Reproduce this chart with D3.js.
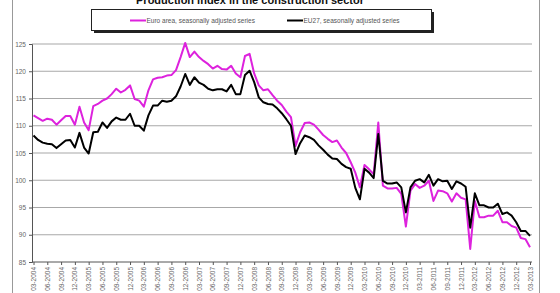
<!DOCTYPE html>
<meta charset="utf-8">
<script src="https://d3js.org/d3.v7.min.js"></script>
<style>
  body { margin: 0; background: #fff; }
  text { font-family: "Liberation Sans", Arial, sans-serif; }
</style>
<svg id="chart" width="560" height="293"></svg>
<script>

  // Monthly values, 03-2004 .. 03-2013
  var euroArea = [
    111.9, 111.4, 110.9, 111.3, 111.1, 110.2, 111.0, 111.8, 111.8, 110.2,
    113.5, 110.6, 109.2, 113.6, 114.0, 114.6, 115.0, 115.8, 116.8, 116.1,
    116.6, 117.4, 114.9, 114.6, 113.5, 116.5, 118.5, 118.8, 118.9, 119.2,
    119.3, 120.2, 122.6, 125.2, 122.6, 123.6, 122.6, 121.9, 121.3, 120.5,
    121.0, 120.4, 120.3, 121.0, 119.6, 118.9, 122.8, 123.2, 119.6, 117.4,
    116.5, 116.7, 115.6, 114.6, 113.8, 112.6, 111.6, 106.3, 108.8, 110.5,
    110.6, 110.2, 109.3, 108.3, 107.6, 107.0, 107.3, 106.0, 105.0, 103.3,
    101.4, 98.7, 102.8, 102.0, 101.1, 110.6, 99.0, 98.5, 98.5, 98.6,
    97.5, 91.5, 98.1, 99.3, 98.6, 99.0, 99.9, 96.2, 98.1, 98.0,
    97.6, 96.1, 97.6, 96.8, 96.5, 87.4, 96.2, 93.2, 93.2, 93.5,
    93.5, 94.4, 92.3, 92.3, 91.6, 91.3, 89.4, 89.2, 87.7
  ];

  var eu27 = [
    108.2, 107.4, 106.9, 106.7, 106.6, 105.9, 106.6, 107.3, 107.4, 106.0,
    108.7, 106.0, 104.9, 108.8, 108.9, 110.6, 109.6, 110.8, 111.5, 111.1,
    111.1, 112.2, 110.0, 110.0, 109.1, 111.9, 113.7, 113.7, 114.6, 114.4,
    114.6, 115.4, 117.2, 119.5, 117.5, 118.9, 117.9, 117.5, 116.8, 116.5,
    116.7, 116.7, 116.3, 117.5, 115.8, 115.8, 119.3, 120.1, 118.0, 115.2,
    114.3, 114.0, 113.9, 113.2, 112.3, 111.2, 110.0, 104.8, 106.8, 108.2,
    107.9, 107.4, 106.4, 105.6, 104.7, 104.0, 103.9, 103.0, 102.4, 102.1,
    98.6, 96.5, 102.1, 101.4, 100.4, 108.5, 99.9, 99.4, 99.4, 99.6,
    98.7, 94.1, 98.7, 99.9, 100.2, 99.6, 101.0, 99.0, 100.2, 99.8,
    99.9, 98.4, 99.8, 99.4, 98.8, 91.3, 97.6, 95.4, 95.4, 95.0,
    95.0, 95.7, 93.8, 94.1, 93.5, 92.3, 90.7, 90.7, 89.8
  ];

  var yTicks = [85, 90, 95, 100, 105, 110, 115, 120, 125];
  var seriesNames = ["Euro area, seasonally adjusted series", "EU27, seasonally adjusted series"];

  // month labels
  var months = [];
  for (var i = 0; i < euroArea.length; i++) {
    var m = (2 + i) % 12 + 1, y = 2004 + Math.floor((2 + i) / 12);
    months.push((m < 10 ? "0" : "") + m + "-" + y);
  }
  var tickMonths = months.filter(function (d, i) { return i % 3 === 0; });

  var svg = d3.select("#chart");

  // outer frame
  svg.append("rect").attr("x", 12.5).attr("y", -10).attr("width", 527).attr("height", 320)
    .attr("fill", "none").attr("stroke", "#999");

  // title (mostly cropped at top)
  svg.append("text").attr("x", 250).attr("y", 4).attr("text-anchor", "middle")
    .attr("font-size", 11).attr("font-weight", "bold").attr("fill", "#111")
    .text("Production index in the construction sector");

  var x = d3.scalePoint().domain(months).range([33.5, 530]);
  var yS = d3.scaleLinear().domain([85, 125]).range([262, 44]);

  // gridlines
  svg.append("g").selectAll("line").data(yTicks.slice(1)).enter().append("line")
    .attr("x1", 32).attr("x2", 532)
    .attr("y1", function (d) { return yS(d); }).attr("y2", function (d) { return yS(d); })
    .attr("stroke", "#a8a8a8").attr("stroke-width", 1.2);

  // y axis
  var yAxis = svg.append("g").attr("transform", "translate(32,0)")
    .call(d3.axisLeft(yS).tickValues(yTicks).tickSize(3).tickFormat(d3.format("d")));
  yAxis.select(".domain").attr("stroke", "#555");
  yAxis.selectAll(".tick line").attr("stroke", "#555");
  yAxis.selectAll("text").attr("font-size", 6.5).attr("fill", "#666")
    .attr("font-family", "Liberation Sans, Arial, sans-serif").attr("x", -6);

  // x axis
  var xAxis = svg.append("g").attr("transform", "translate(0,262)")
    .call(d3.axisBottom(x).tickValues(tickMonths).tickSize(3).tickSizeOuter(0));
  xAxis.select(".domain").attr("stroke", "#555").attr("d", "M32,0H532");
  xAxis.selectAll(".tick line").attr("stroke", "#555");
  xAxis.selectAll("text").attr("font-size", 6.5).attr("fill", "#666")
    .attr("font-family", "Liberation Sans, Arial, sans-serif")
    .attr("transform", "rotate(-90)").attr("text-anchor", "end")
    .attr("x", -5).attr("y", 0).attr("dy", "0.32em");

  // lines
  var line = d3.line()
    .x(function (d, i) { return x(months[i]); })
    .y(function (d) { return yS(d); });

  svg.append("path").datum(euroArea).attr("d", line)
    .attr("fill", "none").attr("stroke", "#dd22dd").attr("stroke-width", 2).attr("stroke-linejoin", "round");
  svg.append("path").datum(eu27).attr("d", line)
    .attr("fill", "none").attr("stroke", "#000").attr("stroke-width", 2).attr("stroke-linejoin", "round");

  // legend
  var lg = svg.append("g");
  lg.append("rect").attr("x", 94).attr("y", 12).attr("width", 340).attr("height", 21).attr("fill", "#222");
  lg.append("rect").attr("x", 91.5).attr("y", 9.5).attr("width", 340).attr("height", 21)
    .attr("fill", "#fff").attr("stroke", "#222").attr("stroke-width", 1);
  var legendX = [130, 287];
  var legendColors = ["#dd22dd", "#000"];
  seriesNames.forEach(function (name, i) {
    lg.append("line").attr("x1", legendX[i]).attr("x2", legendX[i] + 16)
      .attr("y1", 20.5).attr("y2", 20.5).attr("stroke", legendColors[i]).attr("stroke-width", 2);
    lg.append("text").attr("x", legendX[i] + 16.5).attr("y", 22.8)
      .attr("font-size", 6.5).attr("fill", "#555").text(name);
  });

</script>
